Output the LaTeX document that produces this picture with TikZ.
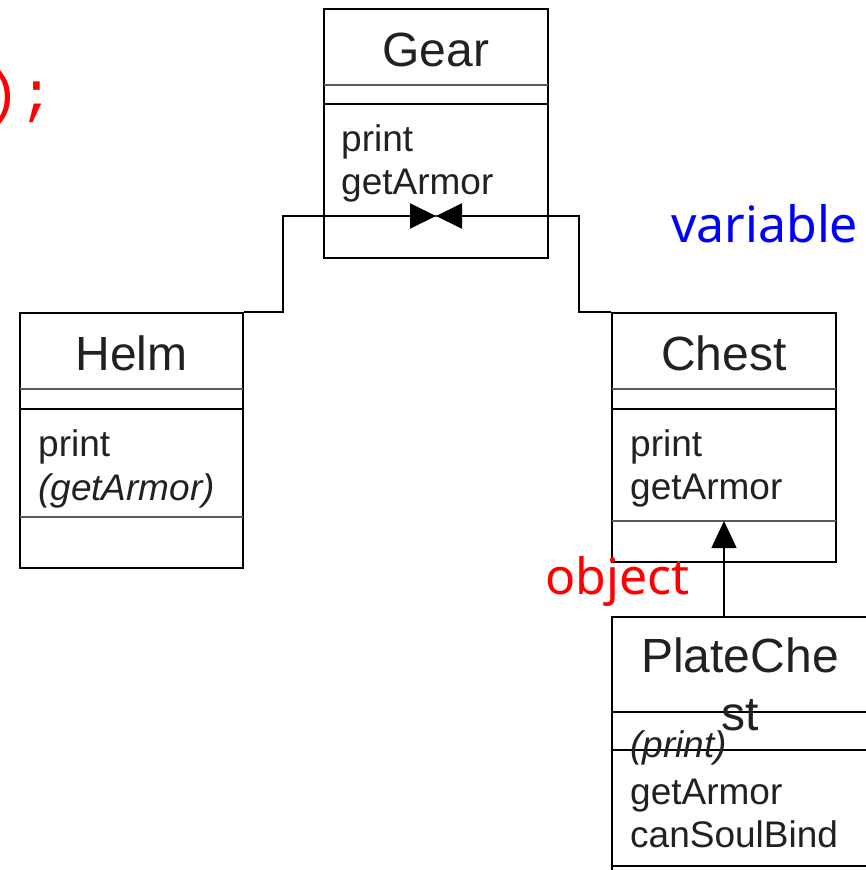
\documentclass[tikz,border=0pt]{standalone}
\usepackage{fontspec}
\setmainfont{Liberation Sans}
\newfontfamily\notefont{Noto Sans}
\newfontfamily\codefont{Liberation Mono}
\usetikzlibrary{arrows.meta,positioning}

\tikzset{
  classbox/.style={draw=black, line width=2pt, inner sep=0pt},
  classname/.style={anchor=base, inner sep=0pt, text=black!87, font=\fontsize{48}{56}\selectfont},
  op/.style={anchor=base west, inner sep=0pt, text=black!87, font=\fontsize{37}{44}\selectfont},
  divider/.style={line width=2pt, black!65},
  divdark/.style={line width=2pt, black},
  link/.style={line width=2pt, -{Triangle[length=26pt,width=25pt]}},
  inherit/.style={line width=1.5pt, -{Triangle[length=27pt,width=25pt]}},
  note/.style={anchor=base west, inner sep=0pt, font=\notefont\fontsize{50}{60}\selectfont},
}

\begin{document}
\begin{tikzpicture}[x=1pt, y=-1pt]
    \useasboundingbox (0,0) rectangle (866,870);
    \clip (0,0) rectangle (866,870);

    % code fragment
    \node[anchor=base east, inner sep=0pt, text=red, font=\codefont\fontsize{58}{68}\selectfont] (code) at (55,112) {);};

    % Gear
    \node[classbox, minimum width=224pt, minimum height=249pt] (gear) at (436,133.5) {};
    \draw[divider] (324,85) -- (548,85);
    \draw[divdark] (324,104) -- (548,104);
    \draw[divider] (324,216) -- (548,216);
    \node[classname] (gearname) at (436,66) {Gear};
    \node[op] (gearop1) at (341,151) {print};
    \node[op] (gearop2) at (341,194) {getArmor};

    % Helm
    \node[classbox, minimum width=223pt, minimum height=255pt] (helm) at (131.5,440.5) {};
    \draw[divider] (20,389) -- (243,389);
    \draw[divdark] (20,409) -- (243,409);
    \draw[divider] (20,517) -- (243,517);
    \node[classname] (helmname) at (131.5,370) {Helm};
    \node[op] (helmop1) at (38,456) {print};
    \node[op] (helmop2) at (38,500) {\itshape (getArmor)};

    % Chest
    \node[classbox, minimum width=224pt, minimum height=249pt] (chest) at (724,437.5) {};
    \draw[divider] (612,389) -- (836,389);
    \draw[divdark] (612,409) -- (836,409);
    \draw[divider] (612,521) -- (836,521);
    \node[classname] (chestname) at (724,370) {Chest};
    \node[op] (chestop1) at (630,456) {print};
    \node[op] (chestop2) at (630,499) {getArmor};

    % PlateChest
    \node[classbox, minimum width=256pt, minimum height=306pt] (plate) at (740,770) {};
    \draw[divdark] (612,712) -- (868,712);
    \draw[divdark] (612,750) -- (868,750);
    \draw[divdark] (612,866) -- (868,866);
    \node[classname] (platename1) at (740,672) {PlateChe};
    \node[classname] (platename2) at (740,730) {st};
    \node[op] (plateop1) at (630,757) {\itshape (print)};
    \node[op] (plateop2) at (630,804) {getArmor};
    \node[op] (plateop3) at (630,847) {canSoulBind};

    % connectors
    \coordinate (meet) at (436,216);
    \coordinate (hbend) at (283,216);
    \coordinate (cbend) at (579,216);
    \coordinate (chestops) at (724,521);
    \draw[link] (helm.north east) -| (hbend) -- (meet);
    \draw[link] (chest.north west) -| (cbend) -- (meet);
    \draw[inherit] (plate.north -| chestops) -- (chestops);

    % labels
    \node[note, text=blue] (variable) at (671,242) {variable};
    \node[note, text=red] (object) at (545,594) {object};
\end{tikzpicture}
\end{document}
